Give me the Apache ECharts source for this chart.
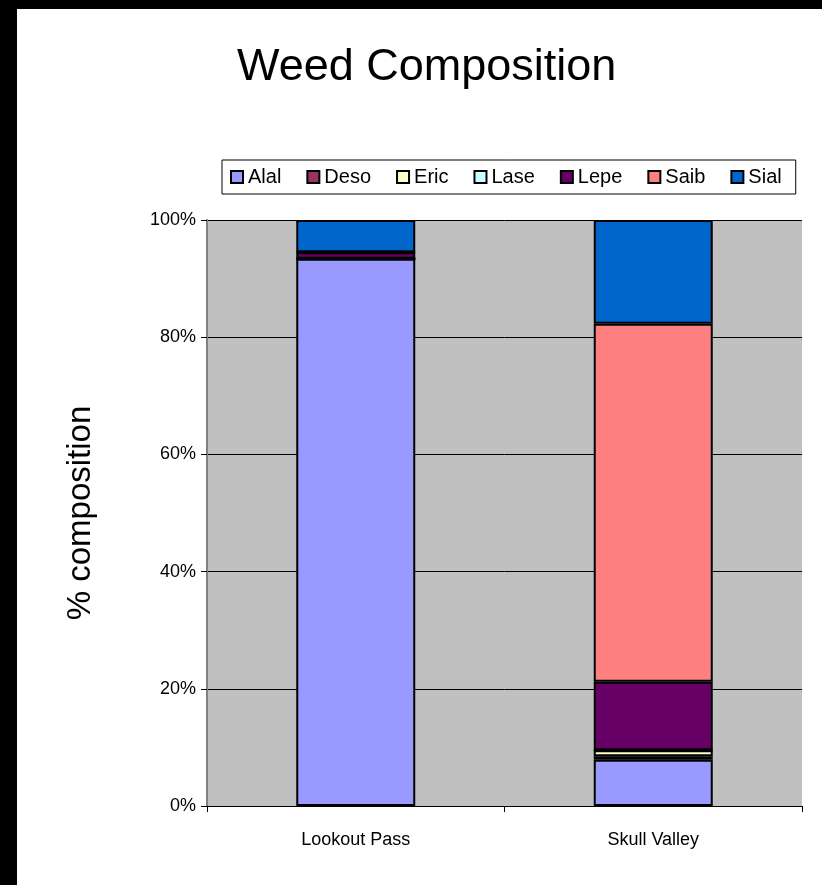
<!DOCTYPE html>
<html>
<head>
<meta charset="utf-8">
<script src="https://cdn.jsdelivr.net/npm/echarts@6/dist/echarts.min.js"></script>
<style>
  html, body { margin: 0; padding: 0; background: #fff; }
  #chart { width: 822px; height: 885px; }
</style>
</head>
<body>
<div id="chart"></div>
<script>
// 站点
const sites = ['Lookout Pass', 'Skull Valley'];
// 物种
const species = ['Alal', 'Deso', 'Eric', 'Lase', 'Lepe', 'Saib', 'Sial'];
// 各物种占比 (%), 顺序同 sites
const alal = [93.4, 7.9];
const deso = [0, 0.6];
const eric = [0, 1.0];
const lase = [0, 0];
const lepe = [1.1, 11.7];
const saib = [0, 61.1];
const sial = [5.5, 17.7];
const yTicks = [0, 20, 40, 60, 80, 100];

const seriesValues = [alal, deso, eric, lase, lepe, saib, sial];
const colors = ['#9999FF', '#993366', '#FFFFCC', '#CCFFFF', '#660066', '#FF8080', '#0066CC'];
const font = 'Liberation Sans, Arial, sans-serif';

const chart = echarts.init(document.getElementById('chart'));

const option = {
  backgroundColor: '#fff',
  animation: false,
  color: colors,
  title: {
    text: 'Weed Composition',
    left: 232,
    top: 40,
    textStyle: {
      fontFamily: font,
      fontSize: 45,
      fontWeight: 'normal',
      color: '#000',
    },
  },
  legend: {
    data: species,
    left: 222,
    top: 160,
    padding: [7, 14, 7, 8],
    itemGap: 25,
    itemWidth: 12,
    itemHeight: 12,
    icon: 'rect',
    borderColor: '#000',
    borderWidth: 1,
    itemStyle: { borderColor: '#000', borderWidth: 2 },
    textStyle: {
      fontFamily: font,
      fontSize: 20,
      color: '#000',
    },
  },
  graphic: [
    { type: 'rect', left: 0, top: 0, shape: { width: 822, height: 9 }, style: { fill: '#000' } },
    { type: 'rect', left: 0, top: 0, shape: { width: 17, height: 885 }, style: { fill: '#000' } },
  ],
  grid: {
    left: 207,
    right: 20,
    top: 220,
    bottom: 79,
    show: true,
    backgroundColor: '#C0C0C0',
    borderWidth: 0,
  },
  xAxis: {
    type: 'category',
    data: sites,
    axisLine: { lineStyle: { color: '#000', width: 1 } },
    axisTick: { show: true, length: 6, lineStyle: { color: '#000' } },
    axisLabel: {
      margin: 25,
      fontFamily: font,
      fontSize: 18,
      color: '#000',
    },
  },
  yAxis: {
    type: 'value',
    min: yTicks[0],
    max: yTicks[yTicks.length - 1],
    interval: 20,
    name: '% composition',
    nameLocation: 'middle',
    nameGap: 110,
    nameTextStyle: {
      fontFamily: font,
      fontSize: 33,
      color: '#000',
    },
    axisLine: { show: true, lineStyle: { color: '#808080', width: 2 } },
    axisTick: { show: true, length: 6, lineStyle: { color: '#000' } },
    axisLabel: {
      margin: 11,
      formatter: '{value}%',
      fontFamily: font,
      fontSize: 18,
      color: '#000',
    },
    splitLine: { show: true, lineStyle: { color: '#000', width: 1 } },
  },
  series: species.map((name, i) => ({
    name: name,
    type: 'bar',
    stack: 'total',
    barWidth: '40%',
    data: seriesValues[i],
    itemStyle: { borderColor: '#000', borderWidth: 2 },
  })),
};

chart.setOption(option);
</script>
</body>
</html>
